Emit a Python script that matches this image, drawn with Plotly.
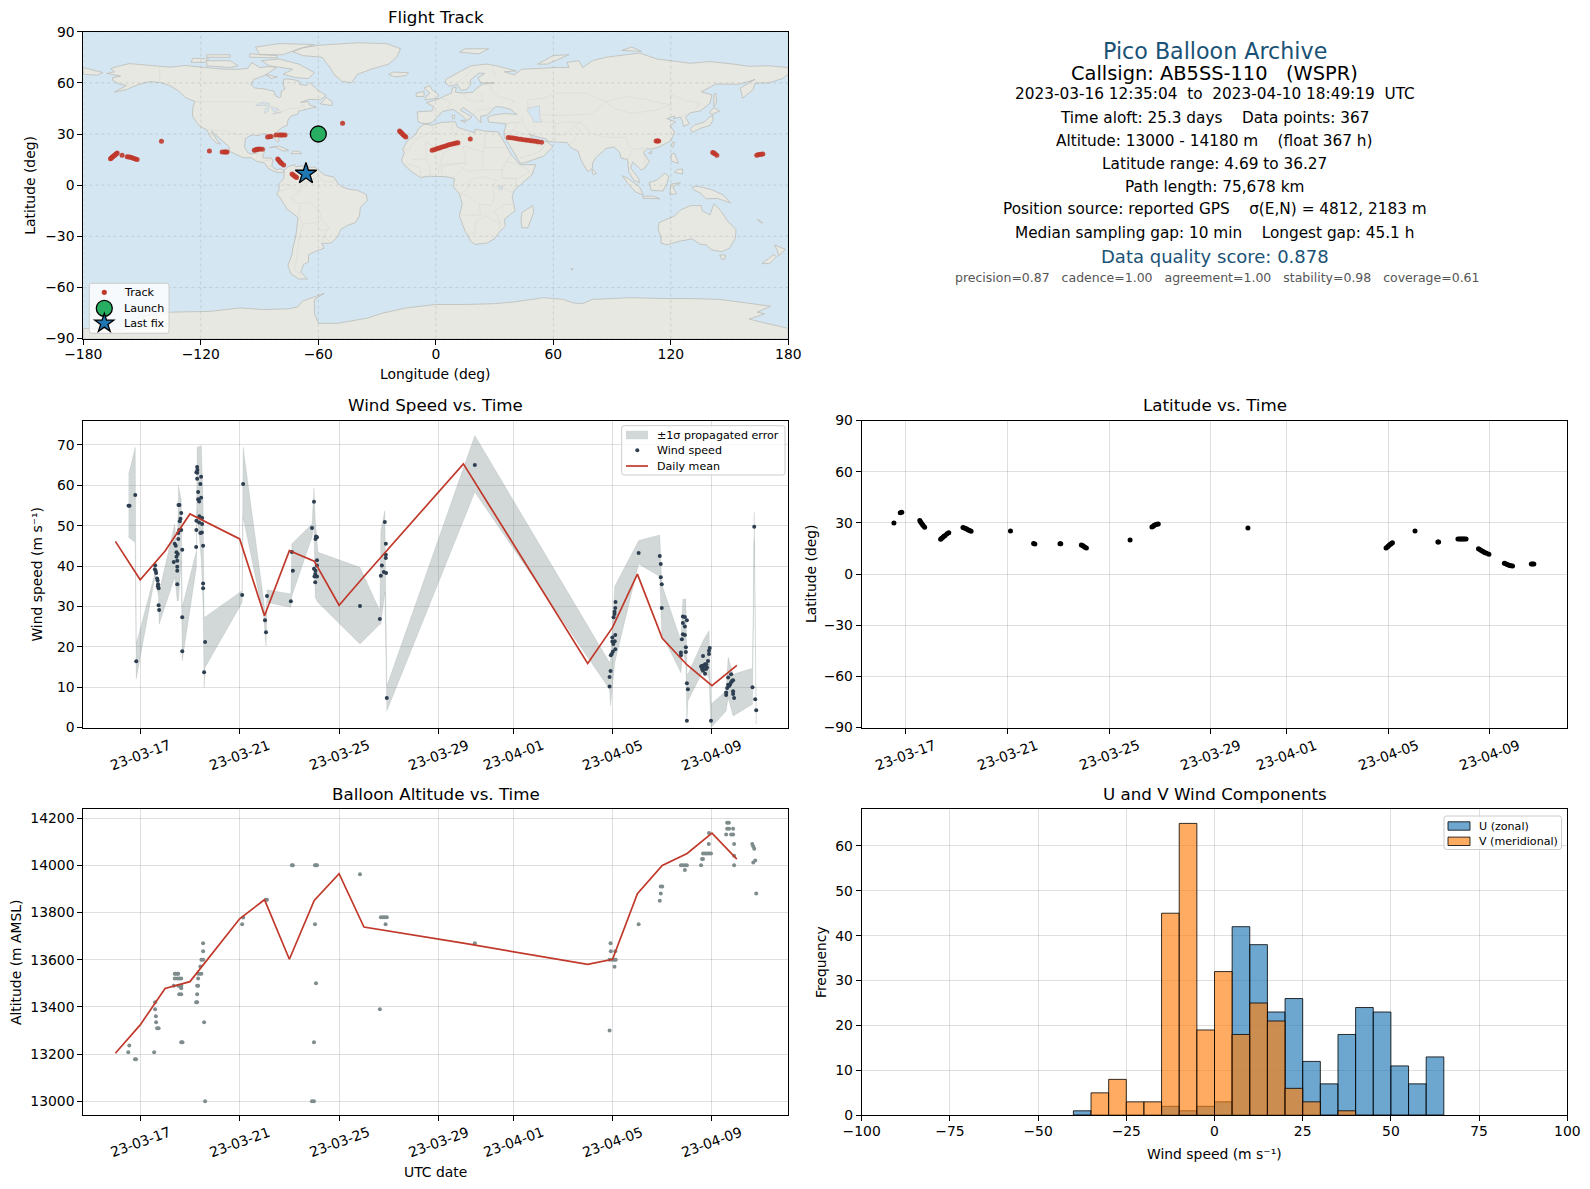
import math

import pandas as pd
import plotly.graph_objects as go

# --- data ---
BASE_DATE = "2023-03-17"
date_tick_days = [0, 4, 8, 12, 15, 19, 23]
date_tick_labels = ["23-03-17", "23-03-21", "23-03-25", "23-03-29", "23-04-01", "23-04-05", "23-04-09"]

# wind speed samples (days after BASE_DATE, m/s)
wind_samples = [
    (-0.47, 54.9), (-0.43, 54.9), (-0.20, 57.6), (-0.16, 16.4),
    (0.60, 40.2), (0.59, 39.2), (0.62, 38.8), (0.64, 38.3), (0.68, 36.9), (0.70, 36.4), (0.72, 35.5),
    (0.71, 35.0), (0.74, 34.5), (0.74, 30.3), (0.76, 29.1),
    (1.35, 41.0), (1.39, 45.5), (1.43, 45.0), (1.46, 43.4), (1.51, 43.0), (1.46, 42.3), (1.49, 41.3),
    (1.49, 39.8), (1.49, 38.8), (1.49, 35.5), (1.54, 55.1), (1.58, 55.1), (1.65, 53.1), (1.62, 51.7),
    (1.59, 51.1), (1.57, 48.9), (1.53, 48.2), (1.53, 46.7), (1.65, 48.9), (1.69, 44.0), (1.69, 27.3),
    (1.69, 18.9),
    (2.29, 64.5), (2.30, 63.8), (2.29, 63.1), (2.26, 63.2), (2.29, 61.6), (2.33, 58.3), (2.33, 56.5),
    (2.37, 56.0), (2.42, 60.3), (2.45, 62.1), (2.45, 56.9), (2.26, 51.2), (2.38, 52.3), (2.37, 50.8),
    (2.26, 48.9), (2.25, 44.7), (2.42, 48.2), (2.48, 48.3), (2.49, 51.9), (2.49, 50.4), (2.53, 45.0),
    (2.53, 35.7), (2.53, 34.5), (2.61, 21.2), (2.57, 13.7),
    (4.14, 60.3), (4.10, 32.8), (5.02, 26.6), (5.06, 23.6), (5.10, 32.6),
    (6.06, 31.3), (6.10, 43.5), (6.14, 38.8),
    (6.91, 49.4), (6.99, 55.9), (6.99, 39.3), (7.04, 36.0), (7.05, 46.7), (7.11, 47.1), (7.07, 47.3),
    (7.11, 41.4), (7.11, 40.1), (7.05, 38.8), (7.04, 38.0), (7.11, 37.4), (7.01, 37.4),
    (8.84, 30.1), (9.64, 26.9), (9.68, 37.6), (9.72, 40.1), (9.80, 38.5), (9.89, 38.3), (9.84, 50.9),
    (9.88, 45.5), (9.88, 42.8), (9.88, 42.0), (9.92, 7.3),
    (13.46, 65.0),
    (18.88, 10.2), (18.88, 12.5), (18.92, 14.0), (18.93, 17.9), (18.97, 18.2), (19.01, 18.8), (19.11, 19.4),
    (18.99, 22.3), (18.99, 21.3), (19.09, 21.4), (19.11, 22.9), (19.03, 20.7), (19.04, 27.3), (19.08, 28.1),
    (19.11, 29.6), (19.12, 31.1), (19.08, 28.7),
    (20.05, 43.2), (20.90, 42.5), (20.94, 40.5), (20.94, 37.2), (20.98, 35.5), (20.98, 29.6),
    (21.75, 18.6), (21.79, 21.9), (21.75, 17.9), (21.83, 25.9), (21.83, 27.5), (21.91, 25.0), (21.91, 27.4),
    (21.99, 26.6), (21.83, 23.1), (21.91, 22.9), (21.95, 19.9), (21.95, 18.7), (21.99, 11.0), (22.03, 9.5),
    (21.99, 1.7),
    (22.64, 17.7), (22.56, 15.1), (22.60, 14.5), (22.64, 14.7), (22.64, 14.1), (22.72, 13.3), (22.77, 15.7),
    (22.84, 16.5), (22.88, 18.2), (22.91, 19.7), (22.88, 19.0), (22.68, 15.4), (22.76, 14.5), (22.72, 15.7),
    (22.80, 14.9), (22.60, 15.3), (22.96, 1.7),
    (23.57, 8.1), (23.57, 8.7), (23.61, 9.8), (23.65, 10.6), (23.69, 10.3), (23.73, 10.7), (23.77, 13.2),
    (23.65, 12.4), (23.77, 11.2), (23.81, 11.6), (23.85, 11.7), (23.85, 9.0), (23.85, 8.3), (23.89, 7.3),
    (24.63, 10.0), (24.70, 49.7), (24.74, 7.0), (24.78, 4.3),
]

# propagated error band (day, upper, lower)
wind_band = [
    (-0.47, 62.6, 47.1), (-0.20, 69.4, 45.8), (-0.16, 20.7, 12.0), (0.60, 38.4, 37.6), (0.74, 35.1, 32.2),
    (0.76, 33.5, 25.6), (1.39, 50.4, 37.2), (1.49, 42.1, 31.4), (1.54, 59.9, 31.4), (1.65, 56.4, 41.3),
    (1.69, 29.8, 16.5), (2.26, 43.8, 39.7), (2.29, 69.4, 53.7), (2.46, 69.8, 41.3), (2.53, 55.4, 29.8),
    (2.57, 27.3, 9.9), (2.61, 27.4, 14.9), (4.10, 33.9, 31.0), (4.14, 69.4, 52.1), (4.97, 31.4, 27.3),
    (5.06, 25.6, 20.2), (5.10, 34.1, 31.0), (6.06, 33.1, 29.8), (6.10, 45.5, 32.6), (6.91, 50.4, 47.1),
    (6.99, 59.3, 50.0), (7.04, 51.7, 32.2), (7.15, 43.4, 31.0), (8.84, 39.7, 20.7), (9.64, 28.9, 25.6),
    (9.68, 48.8, 25.6), (9.84, 53.7, 33.5), (9.92, 10.3, 4.1), (13.46, 72.3, 58.3), (18.88, 16.1, 9.5),
    (18.92, 16.5, 5.4), (19.09, 35.0, 16.1), (20.05, 46.3, 40.5), (20.90, 47.7, 37.4), (20.98, 35.5, 23.1),
    (21.75, 21.5, 13.6), (21.83, 31.8, 19.0), (21.95, 31.8, 15.7), (21.99, 13.2, 1.5), (22.03, 13.2, 6.6),
    (22.64, 21.5, 14.0), (22.88, 24.0, 12.4), (22.96, 5.8, 0.0), (23.57, 9.1, 4.1), (23.65, 17.4, 7.4),
    (23.85, 13.2, 2.9), (24.63, 14.7, 5.8), (24.70, 53.3, 46.3), (24.78, 7.4, 0.8),
]

mean_days = [-1, 0, 1, 2, 4, 5, 6, 7, 8, 9, 13, 18, 19, 20, 21, 22, 23, 24]
wind_daily_mean = [46.1, 36.6, 43.7, 52.9, 46.7, 27.7, 43.8, 41.2, 30.3, 37.4, 65.3, 15.9, 24.8, 38.0, 22.1, 15.5, 10.4, 15.4]
alt_daily_mean = [13204, 13324, 13478, 13507, 13773, 13854, 13602, 13851, 13964, 13738, 13670, 13580, 13602, 13879,
                  13999, 14050, 14136, 14026]

# altitude samples (days after BASE_DATE, m)
alt_samples = [
    (-0.44, 13237), (-0.48, 13208), (-0.17, 13178), (-0.21, 13178), (0.60, 13420), (0.60, 13390), (0.63, 13360),
    (0.64, 13335), (0.68, 13310), (0.74, 13310), (0.56, 13208),
    (1.39, 13540), (1.43, 13540), (1.49, 13540), (1.53, 13540), (1.39, 13520), (1.49, 13520), (1.57, 13520),
    (1.65, 13520), (1.35, 13490), (1.53, 13490), (1.59, 13490), (1.65, 13490), (1.65, 13479), (1.57, 13454),
    (1.65, 13454), (1.65, 13250), (1.70, 13250),
    (2.25, 13420), (2.29, 13420), (2.29, 13454), (2.29, 13490), (2.33, 13490), (2.33, 13520), (2.33, 13540),
    (2.40, 13540), (2.46, 13540), (2.42, 13571), (2.46, 13600), (2.53, 13600), (2.53, 13636), (2.53, 13670),
    (2.57, 13335), (2.61, 13000),
    (4.10, 13750), (4.14, 13779), (5.06, 13854), (5.10, 13854), (6.10, 14000), (6.14, 14000), (7.03, 14000),
    (7.07, 14000), (7.11, 14000), (7.03, 13750), (7.07, 13500), (6.99, 13250), (6.91, 13000), (6.99, 13000),
    (8.84, 13962), (9.64, 13390), (9.68, 13780), (9.76, 13780), (9.84, 13780), (9.92, 13780), (9.87, 13750),
    (13.46, 13670), (18.88, 13300), (18.92, 13670), (18.93, 13636), (19.11, 13636), (18.88, 13600), (18.99, 13600),
    (19.07, 13600), (19.13, 13600), (19.08, 13570), (20.05, 13750), (20.90, 13850), (20.94, 13880), (20.94, 13910),
    (21.00, 13910), (21.75, 14000), (21.83, 14000), (21.91, 14000), (21.99, 14000), (21.91, 13980), (22.56, 14000),
    (22.60, 14026), (22.64, 14026), (22.64, 14050), (22.72, 14050), (22.80, 14050), (22.88, 14050), (22.96, 14050),
    (22.87, 14090), (22.88, 14136), (23.61, 14180), (23.68, 14180), (23.61, 14155), (23.69, 14155), (23.85, 14155),
    (23.57, 14130), (23.77, 14130), (23.85, 14130), (23.89, 14090), (23.89, 14040), (23.89, 14000), (24.62, 14090),
    (24.66, 14080), (24.70, 14070), (24.66, 14012), (24.74, 14020), (24.78, 13880),
]

# latitude samples (days after BASE_DATE, deg)
lat_samples = [
    (-0.47, 30.0), (-0.22, 35.9), (-0.16, 36.3), (0.55, 31.4), (0.58, 30.6), (0.62, 29.8), (0.66, 29.0), (0.69, 28.4),
    (0.74, 27.5), (1.37, 20.4), (1.41, 21.0), (1.46, 21.6), (1.50, 22.2), (1.55, 22.7), (1.62, 23.7), (1.69, 24.3),
    (2.25, 27.3), (2.30, 27.0), (2.36, 26.7), (2.41, 26.3), (2.46, 25.9), (2.51, 25.5), (2.57, 25.1), (4.12, 25.3),
    (5.03, 18.0), (5.08, 17.6), (6.07, 17.8), (6.10, 17.8), (6.91, 17.1), (6.96, 16.7), (7.00, 16.3), (7.05, 15.8),
    (7.11, 15.3), (8.83, 20.0), (9.69, 27.6), (9.74, 28.1), (9.78, 28.6), (9.83, 28.9), (9.88, 29.2), (9.94, 29.4),
    (13.47, 27.1), (18.91, 15.3), (18.96, 15.9), (19.00, 16.5), (19.04, 17.0), (19.08, 17.5), (19.12, 18.0),
    (19.16, 18.4), (20.05, 25.3), (20.95, 18.8), (20.98, 18.8), (21.74, 20.6), (21.80, 20.6), (21.85, 20.6),
    (21.90, 20.6), (21.95, 20.6), (22.00, 20.6), (22.06, 20.6), (22.55, 14.9), (22.60, 14.4), (22.66, 13.9),
    (22.71, 13.4), (22.76, 12.9), (22.81, 12.5), (22.87, 12.2), (22.96, 11.6), (23.57, 6.3), (23.62, 6.0),
    (23.68, 5.7), (23.73, 5.4), (23.78, 5.1), (23.83, 4.9), (23.89, 4.7), (24.63, 5.9), (24.68, 5.9), (24.73, 5.9),
]

# flight track (lon, lat)
track_points = [
    (-166.1, 15.5), (-165.7, 15.9), (-165.3, 16.3), (-164.8, 16.8), (-164.4, 17.3), (-164.0, 17.6), (-163.6, 18.0),
    (-163.1, 18.4), (-162.7, 18.8), (-160.2, 17.6), (-157.6, 16.7), (-156.7, 16.5), (-155.9, 16.3), (-155.0, 16.0),
    (-154.2, 15.7), (-153.3, 15.4), (-152.5, 15.1), (-140.1, 25.7), (-115.6, 20.0), (-109.1, 19.4), (-108.0, 19.4),
    (-107.3, 19.4), (-106.6, 19.4), (-92.7, 20.4), (-92.0, 20.7), (-91.3, 21.0), (-90.6, 21.1), (-89.9, 21.2),
    (-88.6, 21.0), (-85.9, 28.2), (-85.0, 28.4), (-84.1, 28.6), (-81.6, 29.4), (-79.9, 29.4), (-79.0, 29.4),
    (-78.2, 29.4), (-77.0, 29.4), (-80.7, 15.3), (-80.2, 14.6), (-79.7, 13.9), (-79.2, 13.3), (-78.7, 12.7),
    (-77.7, 11.8), (-73.4, 6.5), (-72.8, 5.9), (-72.2, 5.3), (-71.6, 4.9), (-71.1, 4.5), (-47.6, 36.3), (-18.5, 31.8),
    (-18.0, 31.2), (-17.5, 30.6), (-17.0, 30.0), (-16.5, 29.4), (-15.9, 28.8), (-15.3, 28.2), (-1.9, 20.4), (-0.9, 20.8),
    (0.2, 21.2), (1.2, 21.6), (2.2, 22.0), (3.2, 22.4), (4.3, 22.7), (5.3, 23.1), (6.3, 23.5), (7.3, 23.8), (8.4, 24.1),
    (9.4, 24.4), (10.4, 24.7), (11.3, 24.9), (17.6, 27.1), (37.0, 28.0), (38.3, 27.8), (39.6, 27.6), (40.9, 27.3),
    (42.1, 27.1), (43.4, 26.9), (44.7, 26.7), (46.0, 26.5), (47.2, 26.3), (48.5, 26.1), (49.8, 25.9), (51.0, 25.7),
    (52.3, 25.5), (54.0, 25.1), (112.5, 25.9), (113.2, 25.9), (113.8, 25.9), (141.4, 19.2), (142.0, 18.8), (142.5, 18.4),
    (143.5, 17.6), (163.9, 17.6), (164.6, 17.8), (165.3, 18.0), (166.2, 18.1), (167.0, 18.2),
]
launch_lon, launch_lat = [-60.0], [30.0]
last_fix_lon, last_fix_lat = [-66.3], [6.7]

# histogram counts per 5 m/s bin
hist_bin_left = list(range(-40, 65, 5))
u_counts = [1, 0, 0, 0, 0, 2, 1, 2, 3, 42, 38, 23, 26, 12, 7, 18, 24, 23, 11, 7, 13]
v_counts = [0, 5, 8, 3, 3, 45, 65, 19, 32, 18, 25, 21, 6, 3, 0, 1, 0, 0, 0, 0, 0]

# coarse coastlines (lon, lat)
north_america = [(-168, 65.5), (-164, 66.5), (-166, 68.3), (-163, 69.5), (-156.5, 71.3), (-150, 70.5), (-141, 69.7),
                 (-135, 69.2), (-128, 70.2), (-124, 69.7), (-115, 68.5), (-108, 68), (-100, 68), (-96, 68.5), (-94, 72),
                 (-90, 69), (-85, 69.5), (-81.5, 69), (-85, 66), (-87, 64.5), (-93, 62), (-94.5, 59), (-92.5, 57),
                 (-88, 56.5), (-82.5, 55), (-82, 52.5), (-80, 51.3), (-79, 52), (-79, 55), (-77, 56.5), (-78, 59),
                 (-77.5, 62.3), (-73, 62), (-70, 61), (-69.5, 59), (-66, 58.5), (-64.5, 60.3), (-62, 57.5), (-60, 55.5),
                 (-56, 52.5), (-59, 50), (-65, 50.3), (-69, 48.5), (-65, 49), (-64.5, 47), (-61, 45.8), (-66, 44.5),
                 (-70, 43.5), (-70.5, 41.7), (-74, 40.5), (-75.5, 38), (-76, 35), (-78.5, 33.8), (-81, 31.5), (-81, 29),
                 (-80, 26.5), (-80.5, 25.2), (-82, 26.5), (-83, 29), (-85, 29.7), (-89, 30.2), (-90, 29), (-94, 29.5),
                 (-97.2, 27.5), (-97.7, 22.5), (-96, 19), (-94, 18.2), (-91, 18.8), (-90.5, 21), (-87, 21.5), (-88, 18),
                 (-88.5, 16), (-84, 15.8), (-83.3, 14.9), (-83.7, 11), (-81.5, 9), (-79.5, 9.6), (-77.5, 8.6), (-78, 7.5),
                 (-80, 7.3), (-83, 8.3), (-85.7, 10), (-87.5, 13), (-91.5, 14), (-94.5, 16.2), (-98, 16), (-102, 18),
                 (-105.5, 20), (-105.5, 22.5), (-109, 26), (-112.5, 29.5), (-114.7, 31.7), (-112.5, 27.7), (-110, 24),
                 (-112, 24.7), (-115, 28), (-117, 32.5), (-120.5, 34.5), (-122.5, 37.5), (-124.3, 40.5), (-124, 46),
                 (-123, 49), (-128, 51.5), (-131, 55), (-136, 58.5), (-140, 60), (-146, 60.8), (-152, 59), (-158, 56),
                 (-164, 54.6), (-158, 58.5), (-162, 59.5), (-165, 61.5), (-165, 63), (-161, 64)]
south_america = [(-77.5, 8.6), (-75.5, 10.8), (-72, 12), (-71.5, 10.8), (-68, 11.3), (-64, 10.5), (-61.5, 10.5), (-57, 6),
                 (-52, 4.7), (-50, 1), (-48, -1), (-44, -2.5), (-40, -3), (-35.5, -5.5), (-35, -9), (-38.5, -13), (-39, -18),
                 (-41, -22), (-45, -23.5), (-48.5, -26), (-50, -30), (-53.5, -34), (-58.3, -34.2), (-57, -37), (-62, -39),
                 (-65, -41), (-65, -45), (-67.5, -46.5), (-69, -51), (-65.5, -55), (-70, -55), (-74, -52), (-75.5, -47),
                 (-73.5, -41), (-73, -37), (-71.5, -30), (-70.3, -19), (-76, -14), (-79.5, -7.5), (-81.2, -5), (-80, -2.5),
                 (-80, 1), (-77.5, 4)]
africa = [(-6, 35.8), (-2, 35.2), (3, 36.8), (10, 37.2), (11, 34), (15, 32.3), (20, 30.8), (20, 32.8), (25, 31.7), (32, 31.2),
          (32.5, 30), (34, 27), (37, 21), (38.5, 18), (43, 12), (51, 12), (49, 6), (44, 1), (40, -3), (39, -7), (40.5, -15),
          (35, -20), (35.5, -24), (32.8, -27), (30, -31.5), (26, -34), (20, -34.8), (18, -33), (15, -27), (12, -18), (13.5, -11),
          (12, -5), (9, -1), (9.5, 4), (5, 5), (-4, 5.2), (-8, 4.5), (-13, 8.5), (-16.7, 12.5), (-17.5, 14.7), (-16, 19), (-17, 21),
          (-14.5, 26), (-10, 30), (-9, 33)]
eurasia = [(-9, 37), (-9.5, 43), (-2, 43.5), (-1, 46), (-4.8, 48.4), (1.5, 50.5), (4, 52), (8, 54), (8.5, 57), (10.5, 57.5),
           (10, 54.5), (14, 54), (19, 54.5), (21, 57), (24, 59.3), (30, 60), (23, 60), (21.5, 63), (25, 65.5), (22, 65.7),
           (17.5, 61.5), (18, 59.5), (16, 56.3), (13, 55.5), (11, 59), (7, 58), (5, 60), (5, 62), (13, 67), (18, 70), (26, 71),
           (31, 70), (41, 67), (35, 66.5), (40, 64.7), (44, 68), (54, 68.5), (60, 69), (68, 69), (67, 72), (73, 73), (75, 69),
           (80, 73), (87, 75), (104, 77.5), (113, 74), (130, 71.5), (140, 72.5), (152, 71), (160, 69.7), (170, 70), (180, 69),
           (180, 65), (177, 62.5), (170, 60), (163, 59.8), (162, 56), (156.7, 51), (155.5, 57), (163, 62), (155, 59.2), (143, 59.3),
           (135.5, 54.7), (141, 53), (140, 48), (135, 43.5), (130, 42.5), (127.5, 39.8), (129.5, 36), (126.5, 34.5), (126, 37.5),
           (125, 40), (121.5, 39), (122, 40.5), (118, 39), (122.5, 37), (119.5, 35), (122, 31), (120, 26), (114, 22.4), (110, 21),
           (108, 21.5), (106, 19), (109, 14), (107, 10.5), (105, 8.8), (103, 11), (100.5, 13.5), (99.5, 10), (103.5, 4), (104, 1.3),
           (101, 3), (98.5, 8), (98, 15), (94.5, 16), (94, 19), (91, 22.5), (87, 21.5), (82, 16.5), (80, 13), (80, 10), (77.5, 8),
           (74, 15), (72.7, 20), (69, 22), (67, 25), (61, 25.3), (57, 25.7), (56.5, 27), (51, 28.5), (48, 30), (50, 26), (51.5, 24),
           (55, 25), (56.3, 26), (59.8, 22.5), (55, 17), (45, 13), (43, 13), (39, 21), (35, 28), (34.9, 31.5), (36, 36), (31, 36.5),
           (27, 37), (26.5, 39.8), (29, 41), (35, 42), (41.5, 41.5), (38, 44.5), (33, 46), (30.5, 46), (28, 43), (26, 41), (23, 40.5),
           (23, 36.5), (19.5, 41), (14, 45.5), (12.5, 44), (18.5, 40), (16, 38), (12, 42), (8.8, 44.4), (3.5, 43.3), (0, 39), (-2, 36.7),
           (-5.5, 36)]
antarctica = [(-180, -84), (-160, -85), (-148, -80), (-150, -77), (-135, -74.5), (-115, -74), (-100, -72), (-88, -73), (-75, -72.5),
              (-70.5, -71.4), (-68, -68), (-57, -63.5), (-62, -67), (-62, -75), (-60, -81), (-50, -81), (-35, -78), (-27, -75), (-15, -72),
              (0, -70), (15, -70), (30, -69.5), (40, -68.5), (55, -66), (65, -67), (70, -69), (75, -69.5), (80, -67), (90, -66.5),
              (100, -66), (115, -66.5), (130, -66.5), (145, -67), (160, -69.5), (171, -71), (164, -74.5), (168, -75.5), (160, -78.5),
              (165, -80), (180, -84), (180, -90), (-180, -90)]
greenland = [(-73, 78.2), (-68, 80.5), (-60, 82), (-40, 83.5), (-25, 83), (-18, 80), (-20, 75), (-24, 71), (-33, 68), (-40, 65),
             (-43, 60), (-48, 61), (-52, 65), (-54, 69), (-58, 75), (-68, 76)]
australia = [(114, -22), (122, -18), (125, -14.5), (130, -12), (135.5, -12), (136, -15), (140, -17.5), (142, -11), (145.5, -15),
             (149, -21), (153.3, -26), (153, -31), (150, -37), (146, -39), (141, -38), (138, -35), (135, -34.7), (131, -31.5),
             (124, -33), (118, -35), (115, -34), (115, -30), (113.5, -26)]
islands = [
    [(-62, 66), (-65, 62.5), (-71, 63), (-78, 65), (-73, 68), (-85, 70), (-89, 73), (-80, 74), (-70, 71)],
    [(-117, 70), (-105, 69), (-101, 70), (-105, 73), (-117, 73)],
    [(-90, 76.5), (-78, 76.5), (-70, 80), (-62, 82.5), (-80, 83), (-92, 81)],
    [(-125, 72), (-118, 72), (-116, 74), (-124, 74.5)],
    [(-95, 75), (-81, 74.7), (-81, 76), (-95, 77)],
    [(-117, 75), (-105, 75), (-105, 76.5), (-117, 76.5)],
    [(-87, 65), (-81, 63.5), (-84, 62.5)],
    [(-59, 47.7), (-53, 46.7), (-53, 49), (-56, 51.5)],
    [(-85, 22), (-80, 23), (-75, 20.3), (-78, 20), (-82, 22.5)],
    [(-74, 18.5), (-68.5, 18.5), (-70, 19.8), (-73, 20)],
    [(-24, 65), (-21, 63.5), (-15, 64.3), (-14, 66), (-22, 66.3)],
    [(-5.5, 50), (1, 51), (1.5, 52.8), (-2, 56), (-3, 58.5), (-6, 57), (-3, 54), (-5, 52)],
    [(-10, 52), (-6, 52), (-6, 55), (-10, 54)],
    [(12, 78), (22, 77), (27, 80), (15, 80)],
    [(52, 71), (57, 71), (68, 76.5), (60, 76)],
    [(95, 79), (105, 78.5), (100, 81)],
    [(142, 46), (143.5, 49), (143, 54), (142, 53)],
    [(130, 33), (131, 31), (135.5, 33.5), (140, 35), (141.5, 38), (141.5, 41), (140, 40), (137, 37), (132, 35.3)],
    [(140, 42), (141, 41.5), (145, 43.5), (142, 45.5), (140, 43)],
    [(120.2, 23), (121, 22), (122, 25), (121, 25.3)],
    [(120, 16), (120.5, 14), (124, 12.7), (122, 18.5), (120.5, 18.5)],
    [(122, 7.5), (126, 6.5), (126, 9.5), (123, 9)],
    [(109, 1.5), (113, 3), (117, 7), (119, 5), (118, 1), (116, -3.5), (110, -3)],
    [(95.3, 5.5), (98, 4), (104, -1), (106, -5.8), (102, -4), (98, 1)],
    [(105.5, -6.5), (111, -6.5), (114.5, -8), (106, -7.7)],
    [(119.5, -5.5), (120, 0.5), (125, 1.5), (121, -1), (123, -5)],
    [(131, -1), (134, -0.7), (141, -2.7), (147, -6), (150.5, -10.5), (144, -7.8), (138, -8), (135, -4.5), (132, -3)],
    [(145, -41), (148, -41), (147.5, -43.5), (146, -43.5)],
    [(173, -35), (178.5, -37.7), (175, -41.5), (174.5, -38.5)],
    [(172.5, -40.7), (174, -42), (170.5, -46), (166.5, -46), (170, -43)],
    [(44, -16), (49.5, -12), (50, -16), (47, -25), (44, -25), (43.5, -21)],
    [(80, 9.5), (82, 7), (80.5, 6), (79.8, 8)],
    [(69, -49), (70, -49), (69.5, -50)],
    [(-180, 69), (-175, 67.5), (-170, 66), (-173, 64.5), (-180, 65)],
    [(164, -20), (167, -22), (166.5, -22.3)],
    [(12.5, 38), (15.5, 38), (15, 36.7)],
    [(8.3, 41), (9.7, 41), (9.5, 39), (8.5, 39)],
    [(108.7, 19), (110.5, 20), (110, 18.3)],
]
lakes = [
    [(47, 45), (53, 46.5), (53, 40), (54, 37), (50, 37), (49, 40), (47, 43)],
    [(-92, 46.7), (-85, 46.7), (-85, 48), (-89, 48.5)],
    [(-87.5, 42), (-86, 43), (-85, 46), (-87, 45)],
    [(-84, 46), (-80, 44.5), (-82, 43), (-83.5, 44)],
    [(-83, 41.6), (-79, 42.8), (-83, 42.2)],
    [(32, -1), (34, -0.2), (34, -2.5), (32.5, -2.5)],
]
borders = [
    [(-141, 69.7), (-141, 60)],
    [(-123, 49), (-95, 49), (-89, 48), (-82, 45), (-79, 43), (-75, 45), (-71, 45), (-67.5, 47), (-67, 45)],
    [(-117, 32.5), (-106.5, 31.7), (-101, 29.7), (-97.2, 26)],
    [(-92, 14.5), (-91, 17.5), (-89, 17.8), (-88.5, 16)],
    [(-89, 14), (-83.5, 15)], [(-85.7, 11), (-83.7, 11)], [(-83, 8.3), (-82.8, 9.6)],
    [(-72, 12), (-72, 7), (-67.5, 6), (-67, 1), (-70, -4), (-74, -7.5), (-70, -11), (-65, -10), (-60, -14), (-58, -20),
     (-54.5, -25.5), (-57.5, -30), (-53.5, -33.5)],
    [(-67.5, 6), (-61, 8), (-60, 5), (-64, 2), (-67, 1)], [(-60, 5), (-57, 2), (-52, 2), (-51.5, 4.3)],
    [(-78, 1), (-75, 0), (-70, -4)], [(-80, -3.5), (-75, -2)], [(-70.3, -18.3), (-69, -12)],
    [(-69.5, -18), (-68, -23), (-70, -33), (-72, -50), (-69, -52)], [(-68, -23), (-62, -22), (-58, -20)],
    [(-62, -22), (-58, -27), (-54.5, -25.5)], [(-58.3, -34), (-57.5, -30)],
    [(-2, 35), (-1, 32), (-8.7, 27.7), (-13, 27.7)], [(-17, 21), (-13, 21), (-13, 23), (-8.7, 27.7)],
    [(9, 37), (8, 32), (10, 30), (9.5, 26), (12, 23.5), (4, 19), (3, 16)], [(-5, 25), (4, 19)], [(-12, 15), (-5, 15.5), (-5, 25)],
    [(11.5, 33), (10, 30)], [(14, 23), (24, 19.5), (25, 22), (25, 31.7)], [(25, 22), (36.5, 22)],
    [(24, 19.5), (24, 9), (34, 9), (36, 14), (38.5, 18)], [(14, 23), (15.5, 13), (14, 10), (16, 8), (24, 9)],
    [(3, 16), (2, 12), (14, 13), (15.5, 13)], [(3, 6.5), (3, 11), (14, 13)], [(14, 10), (9, 4.5)],
    [(12, -5), (16, -6), (22, -11), (28, -12), (30, -8), (29, -1), (31, 3), (24, 5), (18, 3.5), (16, -3), (12, -5)],
    [(12, -17.5), (23, -17.5), (22, -11)], [(16.5, -28.5), (20, -28), (20, -22), (25, -18), (33, -22.5), (32, -26)],
    [(30, -1), (34, -1), (40, -5)], [(34, 4), (41, 4), (41, -2)], [(36, 14), (43, 12), (48, 8), (42, 4), (34, 4), (34, 9)],
    [(40.5, -11), (35, -11.5), (30, -15), (33, -22)], [(-8, 5), (-8, 10), (-12, 12), (-16, 12.5)], [(-3, 5), (-3, 11), (-5, 15.5)],
    [(1.5, 6), (1, 11), (3, 11)],
    [(-2, 43.5), (3, 42.5)], [(2.5, 51), (6, 49.5), (8, 49), (7.5, 47.5), (6, 46), (7.5, 44)],
    [(14, 54), (15, 51), (18, 49.5), (24, 49), (23.5, 54)], [(28, 60), (28, 56), (32, 52), (40, 49.5), (38, 47)],
    [(31, 62.5), (29, 69.5)], [(20, 69), (12, 61), (11, 59)], [(19, 42), (22, 44), (29, 45)], [(26, 41), (28, 42)],
    [(44, 40), (44.5, 37), (36, 36.5)], [(35, 29.5), (39, 32), (47, 29.5), (48, 30)], [(39, 32), (41, 34.5), (42, 37)],
    [(44.5, 37), (46, 33), (48, 30)], [(61, 25.3), (61, 31), (61, 36.5), (54, 37.5)], [(43, 16), (52, 19), (55, 22), (51.5, 24)],
    [(52, 19), (55, 22), (56, 24.5)],
    [(47, 45), (47, 50), (55, 51), (62, 54), (77, 54), (87, 49), (80, 42), (70, 41), (56, 41), (53, 42)],
    [(87, 49), (98, 52), (108, 50), (120, 47), (112, 44), (100, 42), (91, 45), (87, 49)],
    [(74, 37), (80, 30), (88, 28), (97, 28), (98, 24), (101, 21), (107, 22), (108, 21.5)],
    [(61, 29.5), (66, 29.5), (71, 35), (74, 37)], [(71, 35), (74, 32), (71, 27), (69, 24)],
    [(120, 47), (120, 53), (127, 50), (135, 48), (131, 43)], [(61, 36), (66, 37), (74, 37)], [(125, 40), (130, 42.5)],
    [(98, 15), (100, 20)], [(105, 22), (107, 15), (106, 11)],
]

info_lines = [
    ("Pico Balloon Archive", 50.8, 22.2, "#1a5276", 0),
    ("Callsign: AB5SS-110   (WSPR)", 73.0, 19.4, "black", 0),
    ("2023-03-16 12:35:04  to  2023-04-10 18:49:19  UTC", 94.5, 15.3, "black", 0),
    ("Time aloft: 25.3 days    Data points: 367", 117.9, 15.3, "black", 0),
    ("Altitude: 13000 - 14180 m    (float 367 h)", 141.2, 15.3, "black", 0),
    ("Latitude range: 4.69 to 36.27", 163.6, 15.3, "black", 0),
    ("Path length: 75,678 km", 187.0, 15.3, "black", 0),
    ("Position source: reported GPS    σ(E,N) = 4812, 2183 m", 209.3, 15.3, "black", 0),
    ("Median sampling gap: 10 min    Longest gap: 45.1 h", 232.7, 15.3, "black", 0),
    ("Data quality score: 0.878", 256.0, 18.0, "#1a5276", 0),
    ("precision=0.87   cadence=1.00   agreement=1.00   stability=0.98   coverage=0.61", 277.4, 12.5, "#555555", 3),
]

# --- layout constants in page pixels ---
WIDTH, HEIGHT = 1590, 1189
LEFT_COL = (83.3, 788.3)
RIGHT_COL = (861.7, 1567.3)
ROW1 = (31.7, 338.6)
ROW2 = (420.6, 727.6)
ROW3 = (808.8, 1115.3)
FONT = "DejaVu Sans"
TICK_SIZE = 13.9
LEGEND_SIZE = 11.1
GRID = "rgba(128,128,128,0.25)"
OCEAN = "#d4e6f1"
LAND = "#e8e8e3"
RED = "#c0392b"
BAND = "rgba(127,140,141,0.35)"
U_FILL = "rgba(31,119,180,0.65)"
V_FILL = "rgba(255,127,14,0.65)"
EDGE = "rgba(0,0,0,0.8)"


def px(x):
    return x / WIDTH


def py(y):
    return 1 - y / HEIGHT


def to_dates(days):
    return (pd.Timestamp(BASE_DATE) + pd.to_timedelta(list(days), unit="D")).strftime("%Y-%m-%d %H:%M:%S").tolist()


def rings(polygons):
    # join polygons in one lon list and one lat list, separated by None
    lons, lats = [], []
    for poly in polygons:
        closed = list(poly) + [poly[0]]
        lons += [p[0] for p in closed] + [None]
        lats += [p[1] for p in closed] + [None]
    return lons, lats


def polylines(lines):
    lons, lats = [], []
    for line in lines:
        lons += [p[0] for p in line] + [None]
        lats += [p[1] for p in line] + [None]
    return lons, lats


def note(text, x, y, size, color="black", angle=0, xanchor="center"):
    return dict(text=text, x=px(x), y=py(y), xref="paper", yref="paper", showarrow=False, xanchor=xanchor,
                yanchor="middle", textangle=angle, font=dict(family=FONT, size=size, color=color))


def axis_style(domain, **kwargs):
    style = dict(domain=domain, automargin=False, showline=True, mirror=True, linecolor="black", linewidth=1.1,
                 ticks="outside", ticklen=4.9, tickwidth=1.1, tickcolor="black", showgrid=True, gridcolor=GRID,
                 gridwidth=1, zeroline=False, tickfont=dict(family=FONT, size=TICK_SIZE, color="black"))
    style.update(kwargs)
    return style


def x_domain(col):
    return [px(col[0]), px(col[1])]


def y_domain(row):
    return [py(row[1]), py(row[0])]


def date_axis(col, anchor, date_range):
    return axis_style(x_domain(col), type="date", anchor=anchor, showticklabels=False, range=date_range,
                      tickmode="array", tickvals=to_dates(date_tick_days), ticktext=date_tick_labels)


def date_labels(xref, y_px):
    out = []
    for day, label in zip(date_tick_days, date_tick_labels):
        out.append(dict(text=label, x=to_dates([day])[0], xref=xref, y=py(y_px), yref="paper", showarrow=False,
                        xanchor="center", yanchor="middle", textangle=-20,
                        font=dict(family=FONT, size=TICK_SIZE, color="black")))
    return out


def paper_shape(**kwargs):
    return dict(xref="paper", yref="paper", layer="above", **kwargs)


def legend_box(x0, y0, x1, y1, r=2.5):
    # rounded frame like the ones in the original legends
    path = (f"M {px(x0 + r)},{py(y0)} L {px(x1 - r)},{py(y0)} Q {px(x1)},{py(y0)} {px(x1)},{py(y0 + r)} "
            f"L {px(x1)},{py(y1 - r)} Q {px(x1)},{py(y1)} {px(x1 - r)},{py(y1)} "
            f"L {px(x0 + r)},{py(y1)} Q {px(x0)},{py(y1)} {px(x0)},{py(y1 - r)} "
            f"L {px(x0)},{py(y0 + r)} Q {px(x0)},{py(y0)} {px(x0 + r)},{py(y0)} Z")
    return paper_shape(type="path", path=path, fillcolor="rgba(255,255,255,0.8)", line=dict(color="#cccccc", width=1))


def key_dot(cx, cy, r, color, edge=None, edge_width=0):
    return paper_shape(type="circle", x0=px(cx - r), x1=px(cx + r), y0=py(cy + r), y1=py(cy - r), fillcolor=color,
                       line=dict(color=edge or color, width=edge_width))


def key_star(cx, cy, r, color):
    pts = []
    for i in range(10):
        rad = r if i % 2 == 0 else r * 0.381
        ang = math.pi * i / 5
        pts.append((cx + rad * math.sin(ang), cy - rad * math.cos(ang)))
    path = "M " + " L ".join(f"{px(x)},{py(y)}" for x, y in pts) + " Z"
    return paper_shape(type="path", path=path, fillcolor=color, line=dict(color="black", width=1.3))


def key_patch(x0, cy, x1, color, edge="rgba(0,0,0,0)"):
    return paper_shape(type="rect", x0=px(x0), x1=px(x1), y0=py(cy + 4.2), y1=py(cy - 4.2), fillcolor=color,
                       line=dict(color=edge, width=1))


def key_line(x0, cy, x1, color, width):
    return paper_shape(type="line", x0=px(x0), x1=px(x1), y0=py(cy), y1=py(cy), line=dict(color=color, width=width))


wind_days, wind_speed = zip(*wind_samples)
band_days, band_high, band_low = zip(*wind_band)
alt_days, alt_m = zip(*alt_samples)
lat_days, lat_deg = zip(*lat_samples)
track_lon, track_lat = zip(*track_points)
map_xticks = [-180, -120, -60, 0, 60, 120, 180]
map_yticks = [-90, -60, -30, 0, 30, 60, 90]

fig = go.Figure()

# map panel
land_lon, land_lat = rings([north_america, south_america, africa, eurasia, antarctica, greenland, australia] + islands)
lake_lon, lake_lat = rings(lakes)
border_lon, border_lat = polylines(borders)
grid_lon, grid_lat = polylines([[(v, -90), (v, 90)] for v in map_xticks] + [[(-180, v), (180, v)] for v in map_yticks])
fig.add_trace(go.Scatter(x=land_lon, y=land_lat, mode="lines", fill="toself", fillcolor=LAND, hoverinfo="skip",
                         line=dict(color="#bcbcb8", width=0.8), xaxis="x", yaxis="y"))
fig.add_trace(go.Scatter(x=lake_lon, y=lake_lat, mode="lines", fill="toself", fillcolor=OCEAN, hoverinfo="skip",
                         line=dict(color="#c4c8c8", width=0.6), xaxis="x", yaxis="y"))
fig.add_trace(go.Scatter(x=border_lon, y=border_lat, mode="lines", hoverinfo="skip",
                         line=dict(color="#d9d9d5", width=0.6), xaxis="x", yaxis="y"))
fig.add_trace(go.Scatter(x=grid_lon, y=grid_lat, mode="lines", hoverinfo="skip",
                         line=dict(color="rgba(110,110,110,0.28)", width=0.7, dash="dot"), xaxis="x", yaxis="y"))
fig.add_trace(go.Scatter(x=track_lon, y=track_lat, mode="markers", name="Track", xaxis="x", yaxis="y",
                         marker=dict(color=RED, size=5, opacity=0.9)))
fig.add_trace(go.Scatter(x=launch_lon, y=launch_lat, mode="markers", name="Launch", xaxis="x", yaxis="y",
                         marker=dict(color="#27ae60", size=16, line=dict(color="black", width=1.3))))
fig.add_trace(go.Scatter(x=last_fix_lon, y=last_fix_lat, mode="markers", name="Last fix", xaxis="x", yaxis="y",
                         marker=dict(color="#1f77b4", size=16, symbol="star", line=dict(color="black", width=1.3))))

# wind speed panel
band_t = to_dates(band_days)
fig.add_trace(go.Scatter(x=band_t + band_t[::-1], y=list(band_high) + list(band_low)[::-1], mode="lines", fill="toself",
                         fillcolor=BAND, line=dict(color="rgba(127,140,141,0.2)", width=0.8),
                         name="±1σ propagated error", xaxis="x2", yaxis="y2"))
fig.add_trace(go.Scatter(x=to_dates(wind_days), y=wind_speed, mode="markers", name="Wind speed", xaxis="x2", yaxis="y2",
                         marker=dict(color="#2c3e50", size=4)))
fig.add_trace(go.Scatter(x=to_dates(mean_days), y=wind_daily_mean, mode="lines", name="Daily mean", xaxis="x2", yaxis="y2",
                         line=dict(color=RED, width=1.7)))

# latitude panel
fig.add_trace(go.Scatter(x=to_dates(lat_days), y=lat_deg, mode="markers", xaxis="x3", yaxis="y3",
                         marker=dict(color="black", size=5)))

# altitude panel
fig.add_trace(go.Scatter(x=to_dates(alt_days), y=alt_m, mode="markers", xaxis="x4", yaxis="y4",
                         marker=dict(color="#7f8c8d", size=4)))
fig.add_trace(go.Scatter(x=to_dates(mean_days), y=alt_daily_mean, mode="lines", xaxis="x4", yaxis="y4",
                         line=dict(color=RED, width=1.7)))

# wind component histogram
hist_centers = [b + 2.5 for b in hist_bin_left]
fig.add_trace(go.Bar(x=hist_centers, y=u_counts, width=5, name="U (zonal)", xaxis="x5", yaxis="y5",
                     marker=dict(color=U_FILL, line=dict(color=EDGE, width=1))))
fig.add_trace(go.Bar(x=hist_centers, y=v_counts, width=5, name="V (meridional)", xaxis="x5", yaxis="y5",
                     marker=dict(color=V_FILL, line=dict(color=EDGE, width=1))))

annotations = []
annotations += date_labels("x2", ROW2[1] + 27.5) + date_labels("x3", ROW2[1] + 27.5) + date_labels("x4", ROW3[1] + 26.5)
for title, col, y in [("Flight Track", LEFT_COL, 17.3), ("Wind Speed vs. Time", LEFT_COL, 404.5),
                      ("Latitude vs. Time", RIGHT_COL, 404.5), ("Balloon Altitude vs. Time", LEFT_COL, 793.5),
                      ("U and V Wind Components", RIGHT_COL, 793.5)]:
    annotations.append(note(title, sum(col) / 2, y, 16.7))
annotations += [
    note("Longitude (deg)", sum(LEFT_COL) / 2, 373.5, TICK_SIZE),
    note("Latitude (deg)", 30.5, sum(ROW1) / 2, TICK_SIZE, angle=-90),
    note("Wind speed (m s⁻¹)", 37.5, sum(ROW2) / 2, TICK_SIZE, angle=-90),
    note("Latitude (deg)", 811, sum(ROW2) / 2, TICK_SIZE, angle=-90),
    note("Altitude (m AMSL)", 16, sum(ROW3) / 2, TICK_SIZE, angle=-90),
    note("UTC date", sum(LEFT_COL) / 2, 1172, TICK_SIZE),
    note("Frequency", 821, sum(ROW3) / 2, TICK_SIZE, angle=-90),
    note("Wind speed (m s⁻¹)", sum(RIGHT_COL) / 2, 1154, TICK_SIZE),
]
for text, y, size, color, shift in info_lines:
    annotations.append(note(text, sum(RIGHT_COL) / 2 + shift, y, size, color))

# legends sit in tighter frames than the built-in legend allows, so draw them directly
for text, y in [("Track", 292.3), ("Launch", 308.3), ("Last fix", 323.3)]:
    annotations.append(note(text, 121.8, y, LEGEND_SIZE, xanchor="left"))
for text, y in [("±1σ propagated error", 435), ("Wind speed", 450.3), ("Daily mean", 466)]:
    annotations.append(note(text, 655.3, y, LEGEND_SIZE, xanchor="left"))
for text, y in [("U (zonal)", 826), ("V (meridional)", 841.3)]:
    annotations.append(note(text, 1476.5, y, LEGEND_SIZE, xanchor="left"))

shapes = [
    dict(type="rect", xref="x domain", yref="y domain", x0=0, x1=1, y0=0, y1=1, layer="below", fillcolor=OCEAN,
         line=dict(width=0)),
    legend_box(89.3, 283.3, 169, 333.3),
    key_dot(104.3, 292.3, 2.6, RED),
    key_dot(104.3, 308.3, 8, "#27ae60", "black", 1.3),
    key_star(104.3, 323.3, 10, "#1f77b4"),
    legend_box(621.7, 425.7, 785, 475),
    key_patch(626, 435, 648, BAND),
    key_dot(637.3, 450.3, 2, "#2c3e50"),
    key_line(626, 466, 648, RED, 1.7),
    legend_box(1444, 816, 1561.5, 849.5),
    key_patch(1448, 826, 1470, U_FILL, EDGE),
    key_patch(1448, 841.3, 1470, V_FILL, EDGE),
]

fig.update_layout(
    width=WIDTH, height=HEIGHT, margin=dict(l=0, r=0, t=0, b=0, autoexpand=False), paper_bgcolor="white",
    plot_bgcolor="white", font=dict(family=FONT, size=TICK_SIZE, color="black"), barmode="overlay", hovermode=False,
    showlegend=False, annotations=annotations, shapes=shapes,
    xaxis=axis_style(x_domain(LEFT_COL), anchor="y", range=[-180, 180], tickmode="array", tickvals=map_xticks,
                     showgrid=False, ticklabelstandoff=-2),
    yaxis=axis_style(y_domain(ROW1), anchor="x", range=[-90, 90], tickmode="array", tickvals=map_yticks, showgrid=False),
    xaxis2=date_axis(LEFT_COL, "y2", ["2023-03-14 17:03:00", "2023-04-12 01:41:00"]),
    yaxis2=axis_style(y_domain(ROW2), anchor="x2", range=[0, 76], tickmode="array", tickvals=[0, 10, 20, 30, 40, 50, 60, 70]),
    xaxis3=date_axis(RIGHT_COL, "y3", ["2023-03-15 06:17:00", "2023-04-12 01:08:00"]),
    yaxis3=axis_style(y_domain(ROW2), anchor="x3", range=[-90, 90], tickmode="array", tickvals=map_yticks),
    xaxis4=date_axis(LEFT_COL, "y4", ["2023-03-14 17:03:00", "2023-04-12 01:41:00"]),
    yaxis4=axis_style(y_domain(ROW3), anchor="x4", range=[12941, 14239], tickmode="array",
                      tickvals=[13000, 13200, 13400, 13600, 13800, 14000, 14200], tickformat="d"),
    xaxis5=axis_style(x_domain(RIGHT_COL), anchor="y5", range=[-100, 100], tickmode="array",
                      tickvals=[-100, -75, -50, -25, 0, 25, 50, 75, 100], ticklabelstandoff=-2),
    yaxis5=axis_style(y_domain(ROW3), anchor="x5", range=[0, 68.25], tickmode="array", tickvals=[0, 10, 20, 30, 40, 50, 60]),
)

fig.write_html("out.html", config=dict(displayModeBar=False), post_script="document.body.style.margin='0';")
